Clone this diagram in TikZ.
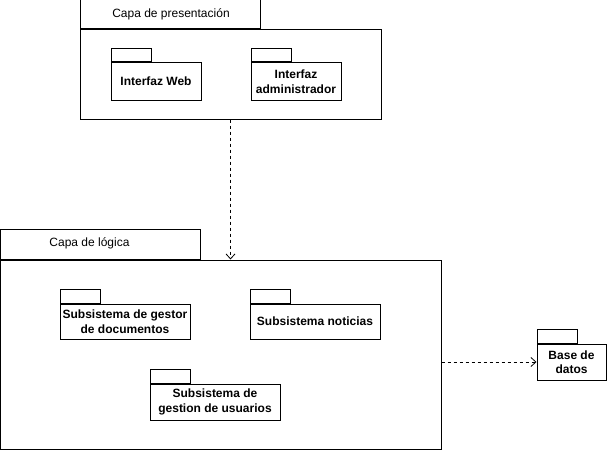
\documentclass[tikz,border=0pt]{standalone}
\usepackage{fontspec}
\setmainfont{Liberation Sans}
\usetikzlibrary{arrows.meta}
\begin{document}
\begin{tikzpicture}[x=1pt,y=-1pt,
  box/.style={draw, line width=1pt, rectangle, inner sep=0pt, fill=white},
  pkgbody/.style={box, align=center, font=\fontsize{12}{14.5}\selectfont\bfseries},
  tabbox/.style={box, anchor=south west, minimum width=40pt, minimum height=13.5pt},
  title/.style={font=\fontsize{12}{14}\selectfont, inner sep=0pt},
  dep/.style={line width=0.8pt, dash pattern=on 3pt off 3pt, -{Straight Barb[length=5pt,width=9pt,line width=0.8pt]}}
]
\useasboundingbox (0,0) rectangle (608,452);
% Presentation layer
\node[box, minimum width=301pt, minimum height=89pt] (pres) at (230.5,74.5) {};
\node[box, anchor=south west, minimum width=180pt, minimum height=29pt] (prestab) at (pres.north west) {};
\node[title] (prestitle) at (171,14) {Capa de presentación};
\node[pkgbody, minimum width=90pt, minimum height=37pt] (web) at (156,81.5) {Interfaz Web};
\node[tabbox] (webtab) at (web.north west) {};
\node[pkgbody, minimum width=90pt, minimum height=37pt] (admin) at (296,81.5) {Interfaz\\administrador};
\node[tabbox] (admintab) at (admin.north west) {};
% Logic layer
\node[box, minimum width=440.5pt, minimum height=189pt] (logic) at (220.75,354.5) {};
\node[box, anchor=south west, minimum width=199.5pt, minimum height=30pt] (logictab) at (logic.north west) {};
\node[title] (logictitle) at (89.5,243) {Capa de lógica};
\node[pkgbody, minimum width=130pt, minimum height=35pt] (docs) at (125,321.5) {Subsistema de gestor\\de documentos};
\node[tabbox] (docstab) at (docs.north west) {};
\node[pkgbody, minimum width=130pt, minimum height=35pt] (news) at (315,321.5) {Subsistema noticias};
\node[tabbox] (newstab) at (news.north west) {};
\node[pkgbody, minimum width=130pt, minimum height=36pt] (users) at (215,402) {Subsistema de\\gestion de usuarios};
\node[tabbox] (userstab) at (users.north west) {};
% Database
\node[pkgbody, minimum width=69pt, minimum height=36pt] (db) at (571.5,362) {Base de\\datos};
\node[tabbox] (dbtab) at (db.north west) {};
% Dependencies
\draw[dep] (pres.south) -- (pres.south |- logic.north);
\draw[dep] (logic.east |- db.west) -- (db.west);
\end{tikzpicture}
\end{document}
